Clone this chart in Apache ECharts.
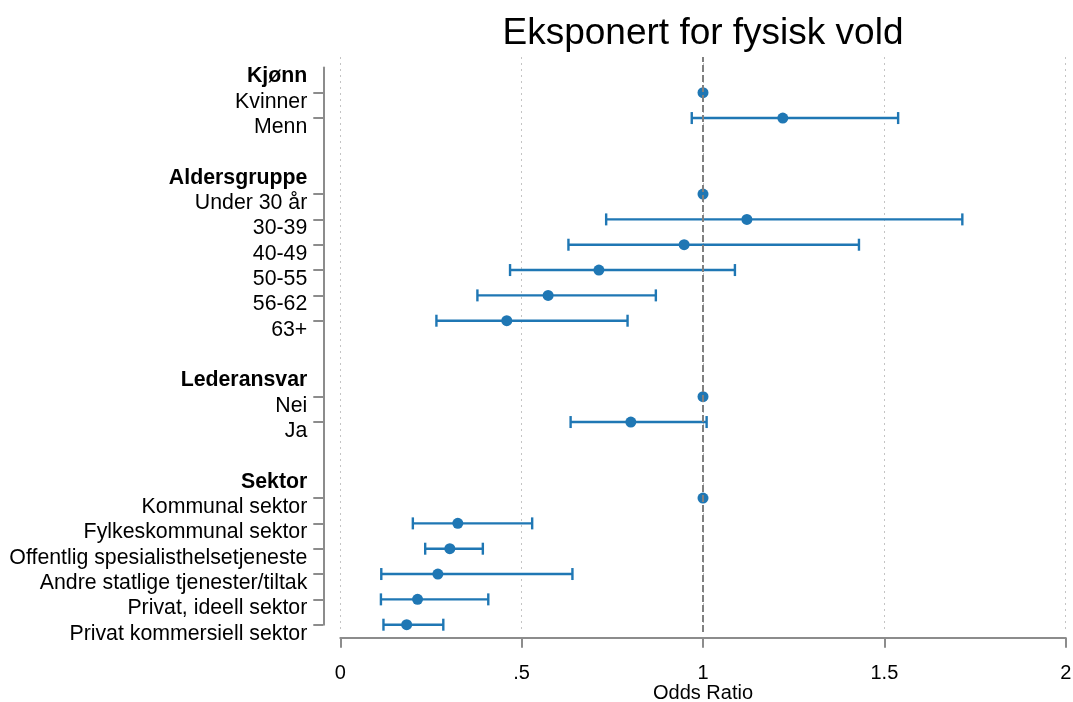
<!DOCTYPE html>
<html>
<head>
<meta charset="utf-8">
<script src="https://cdn.jsdelivr.net/npm/echarts@6/dist/echarts.min.js"></script>
<style>
html,body{margin:0;padding:0;background:#fff;}
#chart{width:1073px;height:702px;}
</style>
</head>
<body>
<div id="chart"></div>
<script>
// ---- data ----
const categories = ['Kjønn','Kvinner','Menn',' ','Aldersgruppe','Under 30 år','30-39','40-49','50-55','56-62','63+','  ','Lederansvar','Nei','Ja','   ','Sektor','Kommunal sektor','Fylkeskommunal sektor','Offentlig spesialisthelsetjeneste','Andre statlige tjenester/tiltak','Privat, ideell sektor','Privat kommersiell sektor'];
const headers = ['Kjønn','Aldersgruppe','Lederansvar','Sektor'];
const oddsRatio = [null,1,1.220,null,null,1,1.121,0.948,0.713,0.573,0.459,null,null,1,0.801,null,null,1,0.324,0.302,0.269,0.213,0.183];
const ciLow     = [null,null,0.969,null,null,null,0.733,0.629,0.468,0.378,0.265,null,null,null,0.635,null,null,null,0.200,0.234,0.113,0.112,0.119];
const ciHigh    = [null,null,1.538,null,null,null,1.715,1.430,1.088,0.870,0.792,null,null,null,1.010,null,null,null,0.529,0.393,0.640,0.408,0.284];
const xTicks = [0, 0.5, 1, 1.5, 2];
const xTickLabels = ['0', '.5', '1', '1.5', '2'];
const refValue = 1;
const titleText = 'Eksponert for fysisk vold';
const xName = 'Odds Ratio';

// ---- build ----
const FONT = 'Liberation Sans, Arial, Helvetica, sans-serif';
const BLUE = '#1f77b4';
const AXIS = '#8c8c8c';

const pointData = [];
const ciData = [];
categories.forEach((c, i) => {
  if (oddsRatio[i] != null) pointData.push([oddsRatio[i], i]);
  if (ciLow[i] != null && ciHigh[i] != null) ciData.push([i, ciLow[i], ciHigh[i]]);
});

const isItem = (v) => v.trim() !== '' && headers.indexOf(v) < 0;

const chart = echarts.init(document.getElementById('chart'), null, {renderer: 'canvas'});
chart.setOption({
  backgroundColor: '#fff',
  animation: false,
  title: {
    text: titleText,
    left: 698,
    top: 10,
    textAlign: 'center',
    textStyle: {fontFamily: FONT, fontSize: 37, fontWeight: 'normal', color: '#000'}
  },
  grid: [
    {left: 340.3, right: 7.3, top: 67.4, bottom: 77.3, containLabel: false, outerBoundsMode: 'none'},
    {left: 340.3, right: 7.3, top: 57, bottom: 70, containLabel: false, outerBoundsMode: 'none'}
  ],
  xAxis: [
    {
      type: 'value', gridIndex: 0, min: 0, max: 2, interval: 0.5, offset: 13,
      axisLine: {show: true, onZero: false, lineStyle: {color: AXIS, width: 2}},
      axisTick: {show: true, length: 10, lineStyle: {color: AXIS, width: 2}},
      axisLabel: {
        margin: 26, color: '#000', fontFamily: FONT, fontSize: 20,
        formatter: (v) => { const k = xTicks.indexOf(v); return k >= 0 ? xTickLabels[k] : ''; }
      },
      splitLine: {show: false},
      name: xName, nameLocation: 'middle', nameGap: 46, nameMoveOverlap: false,
      nameTextStyle: {color: '#000', fontFamily: FONT, fontSize: 20}
    },
    {
      type: 'value', gridIndex: 1, min: 0, max: 2, interval: 0.5,
      axisLine: {show: false}, axisTick: {show: false}, axisLabel: {show: false},
      splitLine: {show: true, lineStyle: {color: '#c4c4c4', width: 1, type: [2, 4]}}
    }
  ],
  yAxis: [
    {
      type: 'category', gridIndex: 0, data: categories, inverse: true, boundaryGap: false,
      offset: 17,
      axisLine: {show: true, onZero: false, lineStyle: {color: AXIS, width: 2}},
      axisTick: {show: true, length: 10, lineStyle: {color: AXIS, width: 2},
        interval: (idx, val) => isItem(categories[idx])},
      axisLabel: {
        interval: 0, margin: 16, color: '#000', fontFamily: FONT, fontSize: 21.3,
        padding: [18, 0, 0, 0],
        formatter: (v) => headers.indexOf(v) >= 0 ? '{b|' + v + '}' : v,
        rich: {b: {fontWeight: 'bold', fontFamily: FONT, fontSize: 21.3, color: '#000'}}
      },
      splitLine: {show: false}
    },
    {
      type: 'value', gridIndex: 1, min: 0, max: 1, show: false
    }
  ],
  series: [
    {
      type: 'scatter', xAxisIndex: 1, yAxisIndex: 1, data: [], silent: true, z: 1,
      markLine: {
        silent: true, symbol: ['none', 'none'], label: {show: false},
        lineStyle: {color: '#808080', width: 2, type: [7, 3]},
        data: [{xAxis: refValue}]
      }
    },
    {
      type: 'custom', xAxisIndex: 0, yAxisIndex: 0, z: 3,
      data: ciData,
      encode: {x: [1, 2], y: 0},
      renderItem: (params, api) => {
        const i = api.value(0);
        const a = api.coord([api.value(1), i]);
        const b = api.coord([api.value(2), i]);
        const h = 6;
        const st = {stroke: BLUE, lineWidth: 2.4, fill: null};
        return {
          type: 'group',
          children: [
            {type: 'line', shape: {x1: a[0], y1: a[1], x2: b[0], y2: b[1]}, style: st},
            {type: 'line', shape: {x1: a[0], y1: a[1] - h, x2: a[0], y2: a[1] + h}, style: st},
            {type: 'line', shape: {x1: b[0], y1: b[1] - h, x2: b[0], y2: b[1] + h}, style: st}
          ]
        };
      }
    },
    {
      type: 'scatter', xAxisIndex: 0, yAxisIndex: 0, z: 4,
      data: pointData, symbol: 'circle', symbolSize: 11,
      itemStyle: {color: BLUE, opacity: 1}
    }
  ]
});
</script>
</body>
</html>
